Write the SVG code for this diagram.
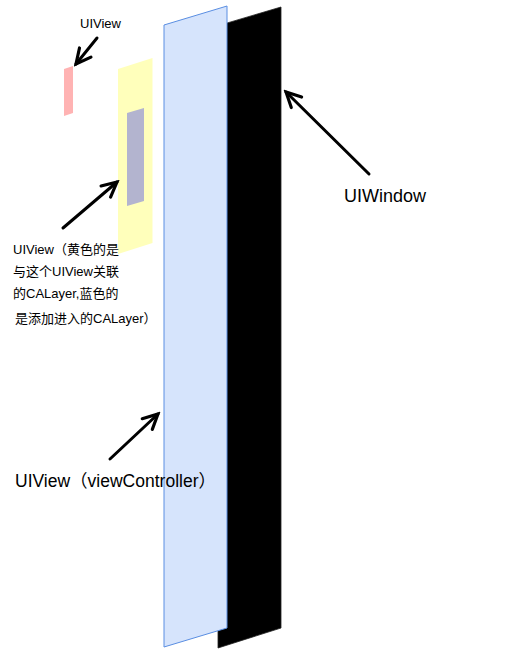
<svg xmlns="http://www.w3.org/2000/svg" width="508" height="665" viewBox="0 0 508 665">
<defs>
<style>
.lbl{font-family:"Liberation Sans","Noto Sans CJK SC",sans-serif;fill:#000}
.arr{stroke:#000;stroke-width:3;fill:none;stroke-linecap:round;marker-end:url(#ah)}
</style>
<marker id="ah" viewBox="0 0 10 10" refX="8.5" refY="5" markerWidth="7" markerHeight="7" orient="auto" markerUnits="strokeWidth">
<path d="M1.5,1.5 L8.5,5 L1.5,8.5" fill="none" stroke="#000" stroke-width="1.5" stroke-linejoin="miter" stroke-linecap="round"/>
</marker>
</defs>
<rect width="508" height="665" fill="#fff"/>
<g id="uiwindow">
<polygon points="218,25.7 281,7 281,628 218,648" fill="#000" stroke="#222" stroke-width="0.8"/>
</g>
<g id="uiview-vc">
<polygon points="164,25 227,6 227,628 164,647" fill="#d6e4fc" stroke="#5a8ee2" stroke-width="1"/>
</g>
<g id="uiview-small">
<polygon points="64,69 73,66 73,113 64,116" fill="#ffb3b3"/>
</g>
<g id="uiview-yellow">
<polygon points="118,69 152.5,58 152.5,243 118,254" fill="#ffffbb"/>
</g>
<g id="calayer-blue">
<polygon points="127,113 144,108 144,201 127,206" fill="#b3b4cf"/>
</g>
<g id="connectors">
<line class="arr" x1="97" y1="38" x2="76" y2="64"/>
<line class="arr" x1="63" y1="228" x2="117" y2="182"/>
<line class="arr" x1="369" y1="174" x2="286" y2="92"/>
<line class="arr" x1="110" y1="459" x2="158" y2="414"/>
</g>
<g id="labels">
<text class="lbl" x="80" y="28" font-size="13">UIView</text>
<text class="lbl" x="13" y="254" font-size="13">UIView（黄色的是</text>
<text class="lbl" x="13" y="276" font-size="13">与这个UIView关联</text>
<text class="lbl" x="13" y="298" font-size="13">的CALayer,蓝色的</text>
<text class="lbl" x="15" y="323" font-size="13">是添加进入的CALayer）</text>
<text class="lbl" x="344" y="202" font-size="18">UIWindow</text>
<text class="lbl" x="15" y="487" font-size="17.5">UIView（viewController）</text>
</g>
</svg>
